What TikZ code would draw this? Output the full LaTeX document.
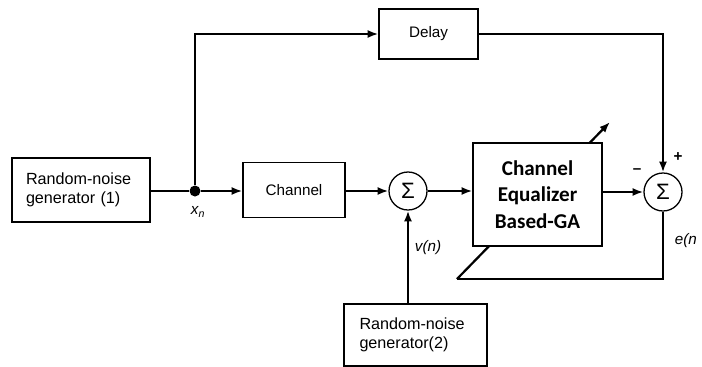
\documentclass[tikz,border=0pt]{standalone}
\usepackage{fontspec}
\setmainfont{Liberation Sans}
\newfontfamily\eqfont{Carlito}
\usetikzlibrary{arrows.meta,positioning,backgrounds}
\tikzset{
  block/.style={draw, line width=1.1pt, fill=white, inner sep=0pt, font=\fontsize{13}{15.5}\selectfont},
  genbox/.style={block, align=left, minimum width=138\px, minimum height=64\px, text width=110\px, font=\fontsize{13.8}{16.5}\selectfont},
  eqbox/.style={block, align=center, minimum width=129\px, minimum height=103\px, font=\eqfont\bfseries\fontsize{18}{22.5}\selectfont},
  summer/.style={draw, line width=1.1pt, circle, fill=white, minimum size=38\px, inner sep=0pt, font=\fontsize{19}{19}\selectfont},
  arrow/.style={-{Latex[length=3.2mm, width=2.4mm]}, line width=1.9pt},
  wire/.style={line width=1.9pt},
  sig/.style={font=\itshape\fontsize{13}{15}\selectfont},
  sgn/.style={font=\bfseries\fontsize{13}{13}\selectfont}
}
\newcommand{\px}{*0.03cm}
\begin{document}
\begin{tikzpicture}[x=0.03cm, y=-0.03cm]
\useasboundingbox (0,0) rectangle (702,367);
% blocks
\node[genbox] (gen1) at (81,190) {Random-noise\\generator (1)};
\node[block, minimum width=102\px, minimum height=55\px] (chan) at (294,190) {Channel};
\node[block, minimum width=99\px, minimum height=50\px] (delay) at (428.5,34) {Delay};
\node[summer] (sum1) at (408,191) {Σ};
\node[eqbox] (eq) at (537.5,194.5) {Channel\\Equalizer\\Based-GA};
\node[summer] (sum2) at (663,192) {Σ};
\node[genbox, minimum width=143\px, minimum height=62\px, text width=112\px] (gen2) at (415.5,335) {Random-noise\\generator(2)};
\node[circle, fill, inner sep=0pt, minimum size=11\px] (tap) at (195,191) {};
\coordinate (fbk) at (457,279);
\coordinate (adapt) at (610,122);
% forward path
\draw[wire] (gen1.east |- tap) -- (tap);
\draw[arrow] (tap) -- (chan.west |- tap);
\draw[arrow] (chan.east |- sum1) -- (sum1);
\draw[arrow] (sum1) -- (eq.west |- sum1);
\draw[arrow] (eq.east |- sum2) -- (sum2);
\draw[arrow] (gen2.north -| sum1) -- (sum1);
% delay branch
\draw[arrow] (tap) |- (delay.west);
\draw[arrow] (delay.east) -| (sum2);
% error feedback
\begin{scope}[on background layer]
\draw[wire] (sum2) |- (fbk);
\draw[arrow] (fbk) -- (adapt);
\end{scope}
% labels
\node[sig] (xn) at (198,212) {x\textsubscript{n}};
\node[sig] (vn) at (428,248) {v(n)};
\node[sig, anchor=east] (en) at (701,241) {e(n};
\node[sgn] (plus) at (678,157) {+};
\node[sgn] (minus) at (637,171) {--};
\end{tikzpicture}
\end{document}
